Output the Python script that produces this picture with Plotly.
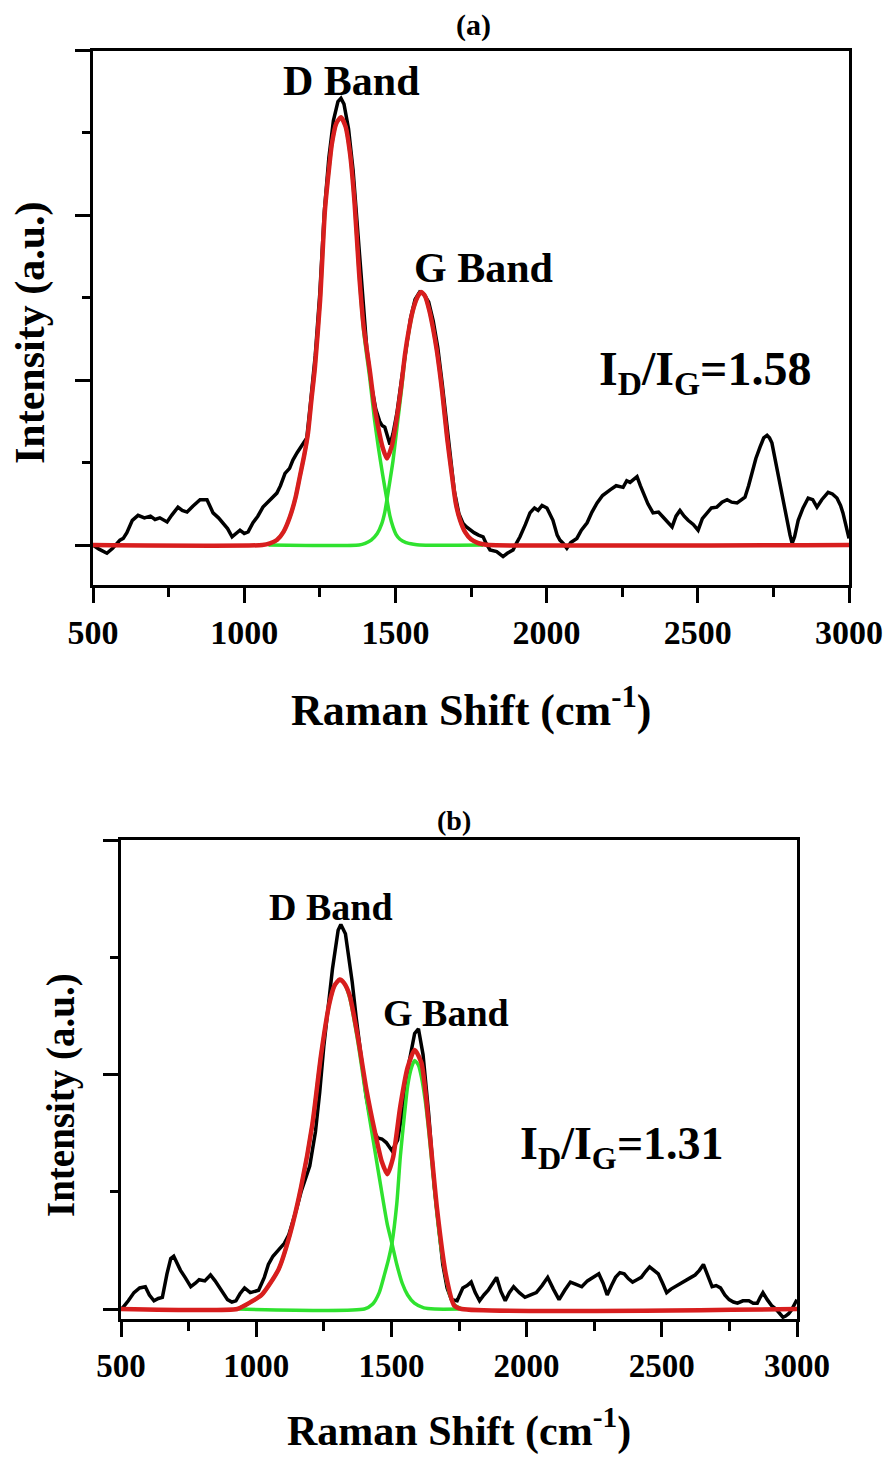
import plotly.graph_objects as go

# ---------------- Panel (a) data ----------------
a_black_x = [500, 520, 546, 565, 589, 600, 612, 630, 649, 670, 690, 705, 721, 745, 760, 781, 795, 811, 830, 854,
             877, 897, 915, 930, 945, 960, 975, 986, 1000, 1013, 1029, 1045, 1062, 1085, 1108, 1120, 1135, 1150, 1161, 1175,
             1184, 1195, 1207, 1220, 1235, 1250, 1265, 1280, 1295, 1310, 1320, 1330, 1345, 1360, 1375, 1390, 1405, 1420, 1435, 1448,
             1456, 1465, 1474, 1482, 1492, 1505, 1520, 1535, 1550, 1565, 1580, 1595, 1610, 1625, 1640, 1655, 1670, 1681, 1695, 1710,
             1724, 1735, 1747, 1760, 1775, 1790, 1800, 1813, 1835, 1856, 1870, 1889, 1900, 1912, 1930, 1945, 1960, 1972, 1985, 2001,
             2021, 2035, 2044, 2055, 2067, 2080, 2100, 2115, 2134, 2150, 2167, 2185, 2210, 2230, 2253, 2265, 2276, 2290, 2299, 2310,
             2319, 2335, 2352, 2370, 2385, 2400, 2415, 2428, 2441, 2455, 2468, 2485, 2501, 2515, 2530, 2545, 2563, 2580, 2597, 2612,
             2630, 2645, 2656, 2668, 2679, 2692, 2706, 2718, 2729, 2737, 2745, 2758, 2772, 2785, 2795, 2805, 2812, 2820, 2832, 2848,
             2865, 2880, 2894, 2910, 2931, 2945, 2960, 2972, 2980, 2990, 2997, 3000]
a_black_y = [0.0, -0.05, -0.10, -0.04, 0.06, 0.08, 0.15, 0.30, 0.36, 0.33, 0.35, 0.31, 0.33, 0.28, 0.36, 0.46, 0.42, 0.40, 0.47, 0.55,
             0.55, 0.39, 0.33, 0.27, 0.20, 0.10, 0.15, 0.18, 0.14, 0.16, 0.27, 0.35, 0.46, 0.55, 0.63, 0.72, 0.87, 0.93, 1.03, 1.12,
             1.17, 1.22, 1.30, 1.75, 2.30, 3.05, 4.05, 4.70, 5.15, 5.38, 5.42, 5.35, 5.05, 4.55, 3.85, 3.05, 2.40, 1.95, 1.65, 1.50,
             1.45, 1.43, 1.30, 1.22, 1.35, 1.60, 2.00, 2.40, 2.75, 2.98, 3.07, 3.04, 2.95, 2.72, 2.40, 1.95, 1.45, 1.07, 0.65, 0.38,
             0.26, 0.22, 0.18, 0.15, 0.12, 0.10, 0.02, -0.06, -0.08, -0.14, -0.10, -0.06, 0.02, 0.10, 0.25, 0.39, 0.45, 0.42, 0.48, 0.45,
             0.30, 0.12, 0.06, 0.02, -0.04, 0.03, 0.08, 0.18, 0.27, 0.40, 0.51, 0.60, 0.67, 0.72, 0.70, 0.78, 0.76, 0.80, 0.83, 0.72,
             0.63, 0.50, 0.39, 0.40, 0.34, 0.28, 0.22, 0.35, 0.42, 0.35, 0.30, 0.25, 0.18, 0.32, 0.39, 0.45, 0.46, 0.52, 0.55, 0.52,
             0.51, 0.55, 0.58, 0.72, 0.87, 1.05, 1.19, 1.30, 1.33, 1.30, 1.24, 1.00, 0.70, 0.48, 0.30, 0.12, 0.02, 0.10, 0.30, 0.45,
             0.57, 0.55, 0.46, 0.55, 0.64, 0.62, 0.57, 0.48, 0.39, 0.25, 0.15, 0.08]

a_fit_x = [500, 1060, 1085, 1108, 1130, 1151, 1170, 1184, 1198, 1211, 1222, 1234, 1251, 1267, 1280, 1290, 1305, 1320, 1335, 1350,
           1365, 1380, 1395, 1416, 1430, 1443, 1458, 1472, 1488, 1505, 1520, 1532, 1545, 1558, 1572, 1585, 1598, 1612, 1625, 1637,
           1655, 1671, 1685, 1700, 1714, 1730, 1750, 1770, 1790, 1810, 3000]
a_fit_y = [0, 0, 0.02, 0.06, 0.16, 0.34, 0.58, 0.83, 1.08, 1.36, 1.75, 2.16, 2.97, 4.06, 4.55, 4.87, 5.12, 5.19, 5.08, 4.75,
           4.15, 3.30, 2.65, 2.10, 1.70, 1.43, 1.18, 1.05, 1.20, 1.55, 1.95, 2.32, 2.62, 2.85, 3.00, 3.07, 3.02, 2.85, 2.62, 2.36,
           1.85, 1.30, 0.90, 0.50, 0.30, 0.16, 0.07, 0.03, 0.01, 0, 0]

a_d_x = [1080, 1108, 1130, 1151, 1170, 1184, 1198, 1211, 1222, 1234, 1251, 1267, 1280, 1290, 1305, 1320, 1335, 1350, 1365, 1380,
         1395, 1416, 1430, 1443, 1458, 1472, 1482, 1492, 1502, 1515, 1535, 1560, 1580, 1790]
a_d_y = [0, 0.06, 0.16, 0.34, 0.58, 0.83, 1.08, 1.36, 1.75, 2.16, 2.97, 4.06, 4.55, 4.87, 5.12, 5.19, 5.08, 4.75, 4.15, 3.30,
         2.60, 2.00, 1.55, 1.20, 0.85, 0.55, 0.35, 0.22, 0.13, 0.07, 0.03, 0.01, 0, 0]

a_g_x = [1080, 1380, 1400, 1420, 1440, 1455, 1465, 1472, 1482, 1492, 1505, 1520, 1532, 1545, 1558, 1572, 1585, 1598, 1612, 1625,
         1637, 1655, 1671, 1685, 1700, 1714, 1730, 1750, 1770, 1790]
a_g_y = [0, 0, 0.02, 0.06, 0.14, 0.26, 0.40, 0.55, 0.78, 1.02, 1.42, 1.88, 2.29, 2.60, 2.84, 3.00, 3.07, 3.02, 2.85, 2.62,
         2.36, 1.85, 1.30, 0.90, 0.50, 0.30, 0.16, 0.07, 0.03, 0]

# ---------------- Panel (b) data ----------------
b_black_x = [500, 506, 527, 548, 569, 590, 605, 622, 638, 653, 670, 684, 695, 705, 720, 737, 758, 775, 789, 810,
             831, 848, 863, 880, 894, 910, 925, 940, 957, 978, 995, 1009, 1030, 1045, 1062, 1083, 1104, 1120, 1135, 1150,
             1166, 1182, 1198, 1219, 1235, 1250, 1266, 1282, 1303, 1313, 1330, 1342, 1355, 1370, 1386, 1407, 1428, 1449, 1465, 1481,
             1502, 1523, 1544, 1565, 1586, 1600, 1617, 1638, 1659, 1675, 1690, 1706, 1722, 1743, 1764, 1780, 1795, 1810, 1826, 1842,
             1858, 1875, 1889, 1905, 1921, 1936, 1952, 1973, 1994, 2015, 2036, 2057, 2078, 2099, 2120, 2141, 2162, 2183, 2204, 2225,
             2246, 2267, 2283, 2298, 2314, 2329, 2345, 2361, 2376, 2392, 2408, 2424, 2440, 2455, 2471, 2487, 2503, 2518, 2534, 2550,
             2571, 2592, 2608, 2623, 2639, 2654, 2670, 2686, 2701, 2717, 2733, 2749, 2765, 2780, 2800, 2822, 2838, 2853, 2864, 2874,
             2890, 2906, 2922, 2938, 2948, 2958, 2969, 2979, 2990, 3000]
b_black_y = [0.0, 0.01, 0.07, 0.14, 0.18, 0.19, 0.12, 0.07, 0.09, 0.10, 0.30, 0.43, 0.45, 0.40, 0.33, 0.27, 0.19, 0.22, 0.25, 0.24,
             0.29, 0.24, 0.19, 0.13, 0.08, 0.06, 0.07, 0.13, 0.18, 0.14, 0.15, 0.16, 0.27, 0.38, 0.45, 0.51, 0.56, 0.63, 0.74, 0.86,
             1.00, 1.12, 1.22, 1.51, 1.85, 2.24, 2.55, 2.90, 3.23, 3.28, 3.20, 3.02, 2.79, 2.48, 2.17, 1.81, 1.55, 1.46, 1.45, 1.42,
             1.35, 1.44, 1.73, 2.10, 2.35, 2.39, 2.17, 1.66, 1.04, 0.68, 0.38, 0.18, 0.08, 0.07, 0.18, 0.20, 0.23, 0.14, 0.07, 0.12,
             0.16, 0.22, 0.27, 0.15, 0.07, 0.14, 0.19, 0.14, 0.10, 0.12, 0.14, 0.20, 0.27, 0.17, 0.08, 0.16, 0.23, 0.21, 0.19, 0.24,
             0.27, 0.30, 0.22, 0.12, 0.20, 0.27, 0.31, 0.30, 0.26, 0.23, 0.25, 0.27, 0.32, 0.36, 0.33, 0.30, 0.22, 0.14, 0.17, 0.19,
             0.22, 0.25, 0.27, 0.29, 0.33, 0.38, 0.28, 0.19, 0.20, 0.18, 0.12, 0.08, 0.06, 0.05, 0.07, 0.07, 0.05, 0.05, 0.10, 0.14,
             0.08, 0.03, 0.00, -0.04, -0.07, -0.06, -0.04, -0.01, 0.03, 0.08]

b_fit_x = [500, 930, 957, 1020, 1083, 1124, 1166, 1208, 1240, 1271, 1290, 1309, 1325, 1345, 1376, 1407, 1439, 1464, 1485, 1506,
           1533, 1560, 1586, 1611, 1638, 1669, 1701, 1732, 1760, 3000]
b_fit_y = [0, 0, 0.03, 0.12, 0.34, 0.63, 1.04, 1.58, 2.17, 2.61, 2.76, 2.81, 2.78, 2.68, 2.32, 1.88, 1.51, 1.26, 1.15, 1.29,
           1.73, 2.06, 2.21, 2.10, 1.58, 0.85, 0.30, 0.03, 0, 0]

b_d_x = [930, 957, 1020, 1083, 1124, 1166, 1208, 1240, 1271, 1290, 1309, 1325, 1345, 1376, 1407, 1439, 1464, 1485, 1502, 1520,
         1540, 1560, 1585, 1620, 1660, 1760]
b_d_y = [0, 0.03, 0.12, 0.34, 0.63, 1.04, 1.58, 2.17, 2.61, 2.76, 2.81, 2.78, 2.66, 2.28, 1.80, 1.35, 1.00, 0.72, 0.56, 0.38,
         0.22, 0.12, 0.05, 0.01, 0, 0]

b_g_x = [930, 1400, 1430, 1455, 1475, 1490, 1502, 1520, 1533, 1548, 1560, 1573, 1586, 1600, 1611, 1625, 1638, 1655, 1669, 1685,
         1701, 1715, 1732, 1760]
b_g_y = [0, 0, 0.04, 0.14, 0.30, 0.43, 0.56, 0.90, 1.30, 1.65, 1.90, 2.05, 2.12, 2.08, 1.98, 1.78, 1.52, 1.12, 0.80, 0.50,
         0.28, 0.13, 0.04, 0]

x_ticks = [500, 1000, 1500, 2000, 2500, 3000]
x_tick_text = ["500", "1000", "1500", "2000", "2500", "3000"]

# ---------------- Figure ----------------
W, H = 890, 1460
FONT = "Liberation Serif"
BLACK = "#000000"
RED = "#d81e1e"
GREEN = "#2fe22f"


def px(x):
    return x / W


def py(y):
    return 1 - y / H


fig = go.Figure()

panels = [
    ("", "", a_black_x, a_black_y, a_d_x, a_d_y, a_g_x, a_g_y, a_fit_x, a_fit_y),
    ("2", "2", b_black_x, b_black_y, b_d_x, b_d_y, b_g_x, b_g_y, b_fit_x, b_fit_y),
]
for xs, ys, bx, by, dx, dy, gx, gy, fx, fy in panels:
    xa, ya = "x" + xs, "y" + ys
    fig.add_trace(go.Scatter(x=bx, y=by, mode="lines", line=dict(color=BLACK, width=3.5),
                             xaxis=xa, yaxis=ya, showlegend=False))
    fig.add_trace(go.Scatter(x=dx, y=dy, mode="lines", line=dict(color=GREEN, width=3.5, shape="spline", smoothing=0.6),
                             xaxis=xa, yaxis=ya, showlegend=False))
    fig.add_trace(go.Scatter(x=gx, y=gy, mode="lines", line=dict(color=GREEN, width=3.5, shape="spline", smoothing=0.6),
                             xaxis=xa, yaxis=ya, showlegend=False))
    fig.add_trace(go.Scatter(x=fx, y=fy, mode="lines", line=dict(color=RED, width=4.5, shape="spline", smoothing=0.6),
                             xaxis=xa, yaxis=ya, showlegend=False))


def xaxis_cfg(domain, anchor, size):
    return dict(domain=domain, anchor=anchor, range=[500, 3000], tickmode="array", tickvals=x_ticks,
                ticktext=x_tick_text, ticks="outside", ticklen=15, tickwidth=3, tickcolor=BLACK,
                showline=True, linewidth=3, linecolor=BLACK, mirror=True, showgrid=False, zeroline=False,
                automargin=False,
                tickfont=dict(family=FONT, size=size, color=BLACK, weight="bold"),
                minor=dict(dtick=250, tick0=500, ticks="outside", ticklen=9, tickwidth=3, tickcolor=BLACK, showgrid=False))


def yaxis_cfg(domain, anchor, rng):
    return dict(domain=domain, anchor=anchor, range=rng, tickmode="linear", tick0=0, dtick=2,
                ticks="outside", ticklen=15, tickwidth=3, tickcolor=BLACK, showticklabels=False,
                showline=True, linewidth=3, linecolor=BLACK, mirror=True, showgrid=False, zeroline=False,
                automargin=False,
                minor=dict(dtick=1, tick0=0, ticks="outside", ticklen=8, tickwidth=3, tickcolor=BLACK, showgrid=False))


fig.update_layout(
    width=W, height=H, margin=dict(l=0, r=0, t=0, b=0, autoexpand=False),
    paper_bgcolor="white", plot_bgcolor="white",
    xaxis=xaxis_cfg([px(93), px(849)], "y", 34),
    yaxis=yaxis_cfg([py(585), py(50.5)], "x", [-0.485, 6]),
    xaxis2=xaxis_cfg([px(121), px(797)], "y2", 33),
    yaxis2=yaxis_cfg([py(1319), py(840)], "x2", [-0.085, 4]),
)

notes = [
    ("(a)", 473, 25, 30, 0),
    ("D Band", 351, 81, 42, 0),
    ("G Band", 484, 268, 42, 0),
    ("I<sub>D</sub>/I<sub>G</sub>=1.58", 705, 372, 48, 0),
    ("Raman Shift (cm<sup>-1</sup>)", 471, 707, 44, 0),
    ("Intensity (a.u.)", 31, 333, 42, -90),
    ("(b)", 454, 820, 28, 0),
    ("D Band", 331, 907, 38, 0),
    ("G Band", 446, 1013, 38, 0),
    ("I<sub>D</sub>/I<sub>G</sub>=1.31", 622, 1147, 46, 0),
    ("Raman Shift (cm<sup>-1</sup>)", 459, 1428, 42, 0),
    ("Intensity (a.u.)", 61, 1095, 39, -90),
]
for text, x, y, size, ang in notes:
    fig.add_annotation(text=text, x=px(x), y=py(y), xref="paper", yref="paper", showarrow=False,
                       xanchor="center", yanchor="middle", textangle=ang,
                       font=dict(family=FONT, size=size, color=BLACK, weight="bold"))

fig.write_html("out.html", config={"displayModeBar": False},
               post_script="document.body.style.margin='0px';document.body.style.padding='0px';")
